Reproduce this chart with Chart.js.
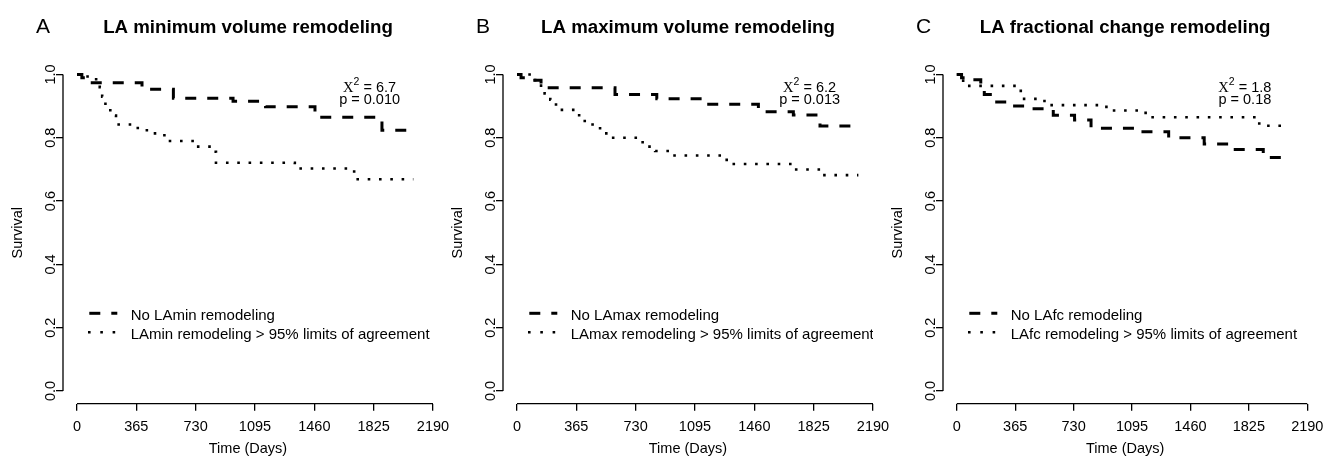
<!DOCTYPE html>
<html><head><meta charset="utf-8">
<script src="https://cdn.jsdelivr.net/npm/chart.js@4/dist/chart.umd.min.js"></script>
<style>
html,body{margin:0;padding:0;background:#fff;}
#wrap{position:relative;width:1331px;height:458px;overflow:hidden;background:#fff;}
canvas{position:absolute;top:0;}
</style></head><body>
<div id="wrap">
<canvas id="cA" width="460" height="458" style="left:0px"></canvas>
<canvas id="cB" width="460" height="458" style="left:440px"></canvas>
<canvas id="cC" width="451" height="458" style="left:880px"></canvas>
</div>
<script>
// ---- data ----
const xTicks = [0, 365, 730, 1095, 1460, 1825, 2190];
const yTicks = [0, 0.2, 0.4, 0.6, 0.8, 1.0];

const panelLetters = ['A', 'B', 'C'];
const panelTitles = ['LA minimum volume remodeling', 'LA maximum volume remodeling', 'LA fractional change remodeling'];
const chiValues = ['6.7', '6.2', '1.8'];
const pValues = ['0.010', '0.013', '0.18'];
const legendNo = ['No LAmin remodeling', 'No LAmax remodeling', 'No LAfc remodeling'];
const legendRem = ['LAmin remodeling > 95% limits of agreement', 'LAmax remodeling > 95% limits of agreement', 'LAfc remodeling > 95% limits of agreement'];

// Panel A
const aNoDays  = [0, 30, 75, 400, 593, 960, 1160, 1464, 1876, 2069];
const aNoSurv  = [1, 0.99, 0.974, 0.953, 0.925, 0.915, 0.898, 0.865, 0.824, 0.824];
const aRemDays = [0, 65, 140, 155, 175, 205, 240, 345, 405, 460, 515, 555, 720, 835, 855, 1340, 1705, 2069];
const aRemSurv = [1, 0.985, 0.96, 0.93, 0.90, 0.87, 0.842, 0.831, 0.824, 0.814, 0.808, 0.790, 0.772, 0.756, 0.721, 0.703, 0.669, 0.669];

// Panel B
const bNoDays  = [0, 25, 86, 148, 603, 860, 1138, 1485, 1700, 1864, 2100];
const bNoSurv  = [1, 0.99, 0.982, 0.958, 0.937, 0.923, 0.906, 0.882, 0.872, 0.837, 0.837];
const bRemDays = [0, 86, 148, 170, 205, 232, 262, 365, 398, 450, 492, 535, 578, 755, 800, 850, 955, 1290, 1690, 1865, 2100];
const bRemSurv = [1, 0.982, 0.958, 0.94, 0.92, 0.905, 0.888, 0.871, 0.853, 0.842, 0.83, 0.814, 0.8, 0.786, 0.772, 0.758, 0.744, 0.717, 0.70, 0.682, 0.682];

// Panel C
const cNoDays  = [0, 30, 70, 150, 172, 222, 326, 449, 603, 736, 839, 1146, 1324, 1546, 1706, 1915, 2080];
const cNoSurv  = [1, 0.99, 0.983, 0.96, 0.937, 0.913, 0.90, 0.892, 0.871, 0.856, 0.83, 0.819, 0.80, 0.78, 0.763, 0.738, 0.738];
const cRemDays = [0, 40, 400, 500, 560, 935, 1180, 1890, 2080];
const cRemSurv = [1, 0.964, 0.923, 0.916, 0.903, 0.886, 0.865, 0.838, 0.838];

// ---- drawing ----
const FONT = '"Liberation Sans", Arial, Helvetica, sans-serif';
const SERIF = '"Liberation Serif", "Times New Roman", serif';

const rDecor = {
  id: 'rDecor',
  afterDatasetsDraw(chart, args, opts) {
    const i = opts.idx;
    const {ctx, chartArea: ca} = chart;
    const x = chart.scales.x, y = chart.scales.y;
    ctx.save();
    ctx.setLineDash([]);
    ctx.strokeStyle = '#000';
    ctx.fillStyle = '#000';
    ctx.lineWidth = 1.3;
    // axis lines (R style, spanning first..last tick)
    ctx.beginPath();
    ctx.moveTo(x.getPixelForValue(xTicks[0]), ca.bottom);
    ctx.lineTo(x.getPixelForValue(xTicks[xTicks.length - 1]), ca.bottom);
    ctx.moveTo(ca.left, y.getPixelForValue(yTicks[0]));
    ctx.lineTo(ca.left, y.getPixelForValue(yTicks[yTicks.length - 1]));
    ctx.stroke();

    // panel letter and title
    ctx.textBaseline = 'alphabetic';
    ctx.font = '21px ' + FONT;
    ctx.textAlign = 'left';
    ctx.fillText(panelLetters[i], 36, 33.3);
    ctx.font = 'bold 18.7px ' + FONT;
    ctx.textAlign = 'center';
    ctx.fillText(panelTitles[i], (ca.left + ca.right) / 2, 33.3);

    // chi-square annotation
    const cx = x.getPixelForValue(1800);
    const segs = [
      {t: 'X', f: '14.5px ' + SERIF, dy: 0},
      {t: '2', f: '10.5px ' + FONT, dy: -6.5},
      {t: ' = ' + chiValues[i], f: '14.5px ' + FONT, dy: 0}
    ];
    let tw = 0;
    segs.forEach(s => { ctx.font = s.f; s.w = ctx.measureText(s.t).width; tw += s.w; });
    let sx = cx - tw / 2;
    ctx.textAlign = 'left';
    segs.forEach(s => { ctx.font = s.f; ctx.fillText(s.t, sx, 91.5 + s.dy); sx += s.w; });
    ctx.font = '14.5px ' + FONT;
    ctx.textAlign = 'center';
    ctx.fillText('p = ' + pValues[i], cx, 104);

    // legend (clipped to plot region like R)
    ctx.beginPath();
    ctx.rect(ca.left, ca.top, ca.right - ca.left, ca.bottom - ca.top);
    ctx.clip();
    const lx0 = ca.left + 26.3, lx1 = ca.left + 54.3, tx = ca.left + 67.7;
    ctx.lineWidth = 3;
    ctx.lineCap = 'butt';
    ctx.setLineDash([11, 11]);
    ctx.beginPath(); ctx.moveTo(lx0, 313.3); ctx.lineTo(lx1, 313.3); ctx.stroke();
    ctx.lineWidth = 2.6;
    ctx.setLineDash([2.6, 9.7]);
    ctx.beginPath(); ctx.moveTo(lx0 - 1.3, 332.3); ctx.lineTo(lx1, 332.3); ctx.stroke();
    ctx.setLineDash([]);
    ctx.font = '15px ' + FONT;
    ctx.textAlign = 'left';
    ctx.fillText(legendNo[i], tx, 320);
    ctx.fillText(legendRem[i], tx, 339);
    ctx.restore();
  }
};

function pts(d, s) { return d.map((v, k) => ({x: v, y: s[k]})); }

function makeChart(id, idx, noD, noS, remD, remS) {
  const cv = document.getElementById(id);
  const W = cv.width;
  return new Chart(cv, {
    type: 'line',
    data: {
      datasets: [
        {label: legendNo[idx], data: pts(noD, noS), borderColor: '#000', borderWidth: 3,
         borderDash: [11, 11], borderCapStyle: 'butt', stepped: 'before', pointRadius: 0, fill: false, tension: 0},
        {label: legendRem[idx], data: pts(remD, remS), borderColor: '#000', borderWidth: 2.6,
         borderDash: [2.6, 8.7], borderCapStyle: 'butt', stepped: 'before', pointRadius: 0, fill: false, tension: 0}
      ]
    },
    options: {
      responsive: false, animation: false, devicePixelRatio: 1,
      layout: {padding: {top: 61.8, left: 0, right: W - 433, bottom: 0}},
      plugins: {legend: {display: false}, tooltip: {enabled: false}, rDecor: {idx: idx}},
      scales: {
        x: {
          type: 'linear', position: 'bottom', min: -86, max: 2190,
          afterBuildTicks: s => { s.ticks = xTicks.map(v => ({value: v})); },
          afterFit: s => { s.height = 458 - 403.7; },
          grid: {display: true, drawOnChartArea: false, drawTicks: true, tickLength: 7, color: '#000', lineWidth: 1.3},
          border: {display: false},
          ticks: {color: '#000', font: {family: FONT, size: 14.5}, padding: 7.6, maxRotation: 0, minRotation: 0, autoSkip: false,
                  callback: v => String(v)},
          title: {display: true, text: 'Time (Days)', color: '#000', font: {family: FONT, size: 14.5}, padding: {top: 0, bottom: 0}}
        },
        y: {
          type: 'linear', position: 'left', min: -0.04, max: 1.04,
          afterBuildTicks: s => { s.ticks = yTicks.map(v => ({value: v})); },
          afterFit: s => { s.width = 63; },
          grid: {display: true, drawOnChartArea: false, drawTicks: true, tickLength: 7, color: '#000', lineWidth: 1.3},
          border: {display: false},
          ticks: {color: '#000', font: {family: FONT, size: 14.5}, minRotation: 90, maxRotation: 90, crossAlign: 'center',
                  padding: -4.6, autoSkip: false, callback: v => Number(v).toFixed(1)},
          title: {display: true, text: 'Survival', color: '#000', font: {family: FONT, size: 14.5}, padding: {top: 9.3, bottom: 0}}
        }
      }
    },
    plugins: [rDecor]
  });
}

makeChart('cA', 0, aNoDays, aNoSurv, aRemDays, aRemSurv);
makeChart('cB', 1, bNoDays, bNoSurv, bRemDays, bRemSurv);
makeChart('cC', 2, cNoDays, cNoSurv, cRemDays, cRemSurv);
</script>
</body></html>
